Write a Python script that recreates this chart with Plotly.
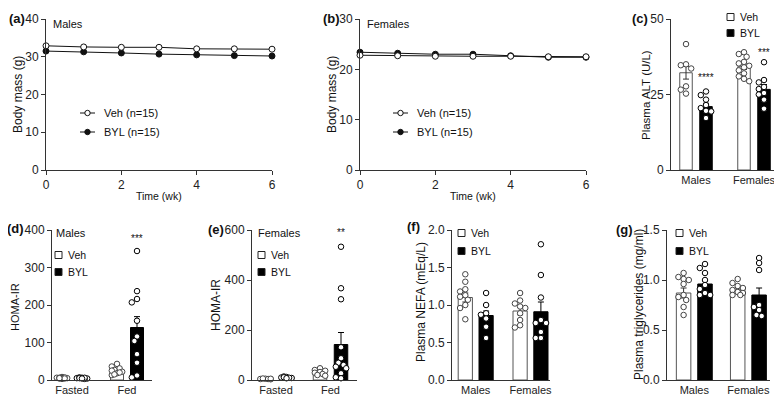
import plotly.graph_objects as go

# ---- data ----
weeks = [0, 1, 2, 3, 4, 5, 6]
male_veh_mass = [32.9, 32.6, 32.5, 32.5, 32.1, 32.1, 32.0]
male_byl_mass = [31.5, 31.3, 31.0, 30.7, 30.5, 30.3, 30.2]
female_veh_mass = [22.8, 22.7, 22.6, 22.6, 22.6, 22.5, 22.5]
female_byl_mass = [23.4, 23.2, 23.0, 23.0, 22.7, 22.4, 22.4]

sex_groups = ["Males", "Females"]
state_groups = ["Fasted", "Fed"]

# (c) plasma ALT, order: males veh, males byl, females veh, females byl
alt_mean = [32.2, 21.0, 34.2, 26.7]
alt_sem = [2.1, 1.1, 0.9, 1.6]
alt_points = [
    [41.7, 35.0, 34.7, 33.6, 27.7, 26.6, 25.3],
    [26.0, 24.8, 23.3, 21.5, 20.5, 19.6, 19.4, 17.2],
    [39.0, 38.4, 37.5, 35.8, 35.3, 34.5, 34.0, 33.0, 32.0, 31.0, 30.2, 29.4],
    [35.7, 29.8, 29.0, 27.5, 26.8, 25.5, 25.0, 23.3, 20.3],
]

# (d) HOMA-IR males: fasted veh, fasted byl, fed veh, fed byl
homa_m_mean = [5, 5, 25, 140]
homa_m_sem = [0.5, 0.5, 3, 29]
homa_m_points = [
    [8, 6, 5, 4, 7, 3, 5, 6, 4, 5],
    [6, 5, 4, 7, 3, 5, 6, 4],
    [43, 36, 31, 27, 22, 18, 13, 25, 20, 15],
    [344, 237, 216, 207, 158, 116, 104, 69, 46, 12, 7],
]

# (e) HOMA-IR females
homa_f_mean = [4, 10, 31, 142]
homa_f_sem = [0.5, 1, 3.5, 48]
homa_f_points = [
    [5, 4, 3, 6, 4, 5],
    [12, 10, 8, 14, 9, 11, 7],
    [47, 40, 37, 32, 29, 24, 20, 17],
    [533, 367, 323, 131, 87, 69, 60, 53, 47, 27, 11, 7],
]

# (f) plasma NEFA
nefa_mean = [1.10, 0.86, 0.92, 0.91]
nefa_sem = [0.06, 0.06, 0.05, 0.13]
nefa_points = [
    [1.41, 1.31, 1.21, 1.18, 1.13, 1.11, 1.07, 1.0, 0.96, 0.81],
    [1.16, 1.0, 0.89, 0.87, 0.82, 0.71, 0.56],
    [1.16, 1.06, 1.02, 0.98, 0.96, 0.89, 0.80, 0.73, 0.70],
    [1.81, 1.40, 1.10, 0.80, 0.76, 0.76, 0.64, 0.56, 0.56],
]

# (g) plasma triglycerides
tg_mean = [0.87, 0.96, 0.91, 0.85]
tg_sem = [0.05, 0.03, 0.015, 0.07]
tg_points = [
    [1.07, 1.03, 1.01, 1.0, 0.96, 0.85, 0.83, 0.80, 0.73, 0.65],
    [1.16, 1.12, 1.07, 1.0, 0.95, 0.91, 0.87, 0.85, 0.85],
    [1.01, 0.97, 0.94, 0.92, 0.9, 0.88, 0.87, 0.85, 0.85],
    [1.22, 1.17, 1.10, 0.75, 0.73, 0.70, 0.65, 0.64],
]

# the page puts the plot 8px in from the top-left corner
OFF = 8
W, H = 782 - OFF, 405 - OFF
FONT = "Liberation Sans, Arial, sans-serif"
AX = "#333333"


def px(x):
    return (x - OFF) / W


def py(y):
    return 1 - (y - OFF) / H


fig = go.Figure()
annotations = []
shapes = []


def axis_common():
    return dict(showline=True, linecolor=AX, linewidth=1, showgrid=False,
                zeroline=False, ticks="outside", ticklen=4, tickwidth=1,
                tickcolor=AX, tickfont=dict(size=12, color="#222"),
                automargin=False, fixedrange=True)


def text(x, y, s, size=11, bold=False, xanchor="left", angle=0):
    if bold:
        s = "<b>" + s + "</b>"
    annotations.append(dict(x=px(x), y=py(y), xref="paper", yref="paper",
                            text=s, showarrow=False, xanchor=xanchor,
                            yanchor="middle", textangle=angle,
                            font=dict(size=size, color="#111", family=FONT)))


def set_axes(n, xdom, ydom, xr, yr, ytick, yfmt=None):
    xa = axis_common()
    xa.update(domain=[px(xdom[0]), px(xdom[1])], range=xr, anchor="y%d" % n)
    ya = axis_common()
    ya.update(domain=[py(ydom[1]), py(ydom[0])], range=yr, anchor="x%d" % n,
              tickvals=ytick)
    if yfmt:
        ya["tickformat"] = yfmt
    key = "" if n == 1 else str(n)
    fig.update_layout(**{"xaxis" + key: xa, "yaxis" + key: ya})


def swarm(vals, center, ux, uy, step=2.6, diam=5.0, maxk=2):
    placed = []
    xs = []
    for v in vals:
        best, best_d = center, -1
        for k in [0, -1, 1, -2, 2, -3, 3][: 2 * maxk + 1]:
            x = center + k * step * ux
            dmin = min([(((x - a) / ux) ** 2 + ((v - b) / uy) ** 2) ** 0.5
                        for a, b in placed] or [99])
            if dmin >= diam:
                best = x
                break
            if dmin > best_d:
                best, best_d = x, dmin
        placed.append((best, v))
        xs.append(best)
    return xs


# ---- (a) and (b) body mass lines ----
def line_panel(n, xdom, ydom, yr, ytick, veh, byl, label, sub, ytitle_x, lx):
    set_axes(n, xdom, ydom, [0, 6], yr, ytick)
    fig.update_layout(**{("xaxis" + ("" if n == 1 else str(n))): dict(tickvals=[0, 2, 4, 6])})
    ax = "x" if n == 1 else "x%d" % n
    ay = "y" if n == 1 else "y%d" % n
    fig.add_trace(go.Scatter(x=weeks, y=byl, mode="lines+markers", xaxis=ax, yaxis=ay,
                             line=dict(color="#111", width=1), cliponaxis=False,
                             marker=dict(symbol="circle", size=6, color="#111",
                                         line=dict(color="#111", width=1)),
                             showlegend=False))
    fig.add_trace(go.Scatter(x=weeks, y=veh, mode="lines+markers", xaxis=ax, yaxis=ay,
                             line=dict(color="#111", width=1), cliponaxis=False,
                             marker=dict(symbol="circle", size=6, color="white",
                                         line=dict(color="#111", width=1)),
                             showlegend=False))
    text(xdom[0] - 39, 18, label, size=13, bold=True)
    text(xdom[0] + 5, 24, sub, size=11)
    text(ytitle_x, 95, "Body mass (g)", size=12, xanchor="center", angle=-90)
    text((xdom[0] + xdom[1]) / 2, 196, "Time (wk)", size=10.5, xanchor="center")
    # legend
    for yy, fill, name in [(113, "white", "Veh (n=15)"), (132, "#111", "BYL (n=15)")]:
        shapes.append(dict(type="line", xref="paper", yref="paper",
                           x0=px(lx), x1=px(lx + 15), y0=py(yy), y1=py(yy),
                           line=dict(color="#111", width=1)))
        shapes.append(dict(type="circle", xref="paper", yref="paper",
                           xsizemode="pixel", ysizemode="pixel",
                           xanchor=px(lx + 7.5), yanchor=py(yy),
                           x0=-2.7, x1=2.7, y0=-2.7, y1=2.7,
                           fillcolor=fill, line=dict(color="#111", width=1)))
        text(lx + 22, yy, name, size=11)


line_panel(1, (46, 272), (19, 170), [0, 40], [0, 10, 20, 30, 40],
           male_veh_mass, male_byl_mass, "(a)", "Males", 18, 80)
line_panel(2, (360, 586), (19, 170), [0, 30], [0, 10, 20, 30],
           female_veh_mass, female_byl_mass, "(b)", "Females", 332, 393)


# ---- bar panels ----
def bar_panel(n, xdom, ydom, centers, off, bw, yr, ytick, cats, means, sems,
              points, yfmt=None):
    s = centers[1] - centers[0]
    xr = [(xdom[0] - centers[0]) / s, (xdom[1] - centers[0]) / s]
    set_axes(n, xdom, ydom, xr, yr, ytick, yfmt)
    fig.update_layout(**{"xaxis%d" % n: dict(tickvals=[0, 1], ticktext=cats, ticks="",
                                             tickfont=dict(size=11, color="#222"))})
    ax, ay = "x%d" % n, "y%d" % n
    o, w = off / s, bw / s
    pos = [-o, o, 1 - o, 1 + o]
    ux = 1 / s
    uy = (yr[1] - yr[0]) / (ydom[1] - ydom[0])
    for i in range(4):
        veh = i % 2 == 0
        fig.add_trace(go.Bar(
            x=[pos[i]], y=[means[i]], width=w, xaxis=ax, yaxis=ay,
            marker=dict(color="white" if veh else "#000",
                        line=dict(color="#555" if veh else "#000", width=1)),
            error_y=dict(type="data", array=[sems[i]], visible=True,
                         color="#333" if veh else "#000", thickness=1, width=3),
            showlegend=False))
    for i in range(4):
        veh = i % 2 == 0
        xs = swarm(points[i], pos[i], ux, uy)
        fig.add_trace(go.Scatter(
            x=xs, y=points[i], mode="markers", xaxis=ax, yaxis=ay, cliponaxis=False,
            marker=dict(symbol="circle", size=5.5, color="white",
                        line=dict(color="#444" if veh else "#000", width=1)),
            showlegend=False))
    return pos


def legend_squares(x, y1, y2):
    for yy, fill, name in [(y1, "white", "Veh"), (y2, "#000", "BYL")]:
        shapes.append(dict(type="rect", xref="paper", yref="paper",
                           x0=px(x), x1=px(x + 7), y0=py(yy + 3.5), y1=py(yy - 3.5),
                           fillcolor=fill, line=dict(color="#222", width=1)))
        text(x + 11, yy, name, size=10.5)


def star(n, x, y, s):
    annotations.append(dict(x=x, y=y, xref="x%d" % n, yref="y%d" % n, text=s,
                            showarrow=False, yanchor="middle",
                            font=dict(size=10, color="#111", family=FONT)))


# (c)
pos = bar_panel(3, (671, 774), (19, 170), (696, 754), 10, 12.5, [0, 50], [0, 25, 50],
                sex_groups, alt_mean, alt_sem, alt_points)
star(3, pos[1], 30.5, "****")
star(3, pos[3], 39, "***")
text(630, 18, "(c)", size=13, bold=True)
text(646, 95, "Plasma ALT (U/L)", size=11.5, xanchor="center", angle=-90)
legend_squares(727, 17, 33)

# (d)
pos = bar_panel(4, (52, 152), (230, 380), (72, 127), 10, 13, [0, 400],
                [0, 100, 200, 300, 400], state_groups, homa_m_mean, homa_m_sem,
                homa_m_points)
star(4, pos[3], 378, "***")
text(5, 228, "(d)", size=13, bold=True)
text(54, 233, "Males", size=11)
text(15, 307, "HOMA-IR", size=11, xanchor="center", angle=-90)
legend_squares(55, 255, 272)

# (e)
pos = bar_panel(5, (252, 357), (230, 380), (276, 330.5), 10.5, 13.5, [0, 600],
                [0, 200, 400, 600], state_groups, homa_f_mean, homa_f_sem,
                homa_f_points)
star(5, pos[3], 592, "**")
text(206, 229, "(e)", size=13, bold=True)
text(256, 233, "Females", size=11)
text(216, 305, "HOMA-IR", size=12, xanchor="center", angle=-90)
legend_squares(258, 255, 272)

# (f)
bar_panel(6, (452, 550), (230, 380), (475.7, 530.5), 10.4, 14.2, [0, 2],
          [0, 0.5, 1.0, 1.5, 2.0], sex_groups, nefa_mean, nefa_sem, nefa_points,
          yfmt=".1f")
text(405, 227, "(f)", size=13, bold=True)
text(421, 302, "Plasma NEFA (mEq/L)", size=12, xanchor="center", angle=-90)
legend_squares(458, 233, 251)

# (g)
bar_panel(7, (667, 770), (230, 380), (694.3, 748.4), 10.7, 14.5, [0, 1.5],
          [0, 0.5, 1.0, 1.5], sex_groups, tg_mean, tg_sem, tg_points, yfmt=".1f")
text(614, 229, "(g)", size=13, bold=True)
text(639, 305, "Plasma triglycerides (mg/ml)", size=12, xanchor="center", angle=-90)
legend_squares(676, 233, 251)

fig.update_layout(
    width=W, height=H, margin=dict(l=0, r=0, t=0, b=0, autoexpand=False),
    paper_bgcolor="white", plot_bgcolor="white",
    font=dict(family=FONT, color="#222"),
    showlegend=False, barmode="overlay",
    annotations=annotations, shapes=shapes,
)

fig.write_html("out.html")
